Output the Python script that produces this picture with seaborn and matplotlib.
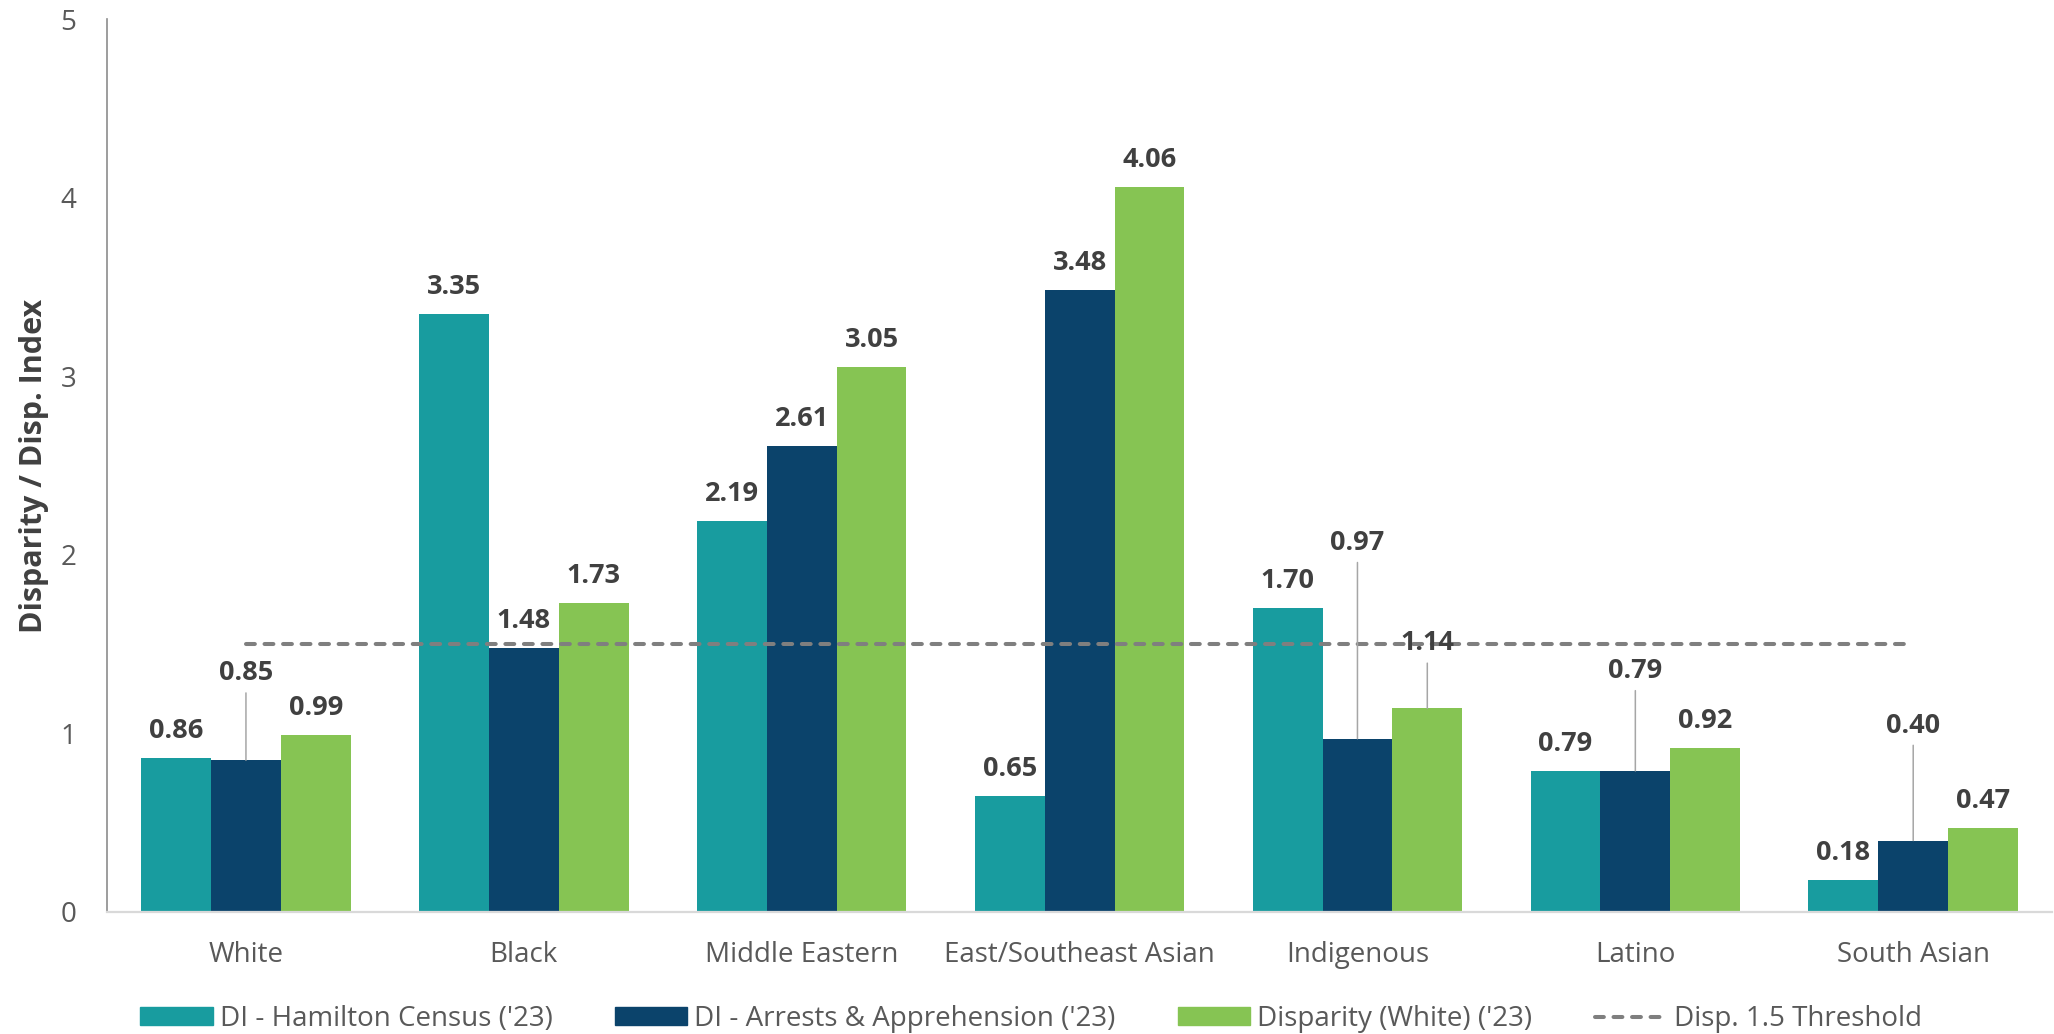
import numpy as np
import pandas as pd
import matplotlib.pyplot as plt
import seaborn as sns
from matplotlib.lines import Line2D

# --- data ---
categories = ['White', 'Black', 'Middle Eastern', 'East/Southeast Asian',
              'Indigenous', 'Latino', 'South Asian']
series_names = ["DI - Hamilton Census ('23)",
                "DI - Arrests & Apprehension ('23)",
                "Disparity (White) ('23)"]
census_di = [0.86, 3.35, 2.19, 0.65, 1.70, 0.79, 0.18]
arrests_di = [0.85, 1.48, 2.61, 3.48, 0.97, 0.79, 0.40]
disparity_white = [0.99, 1.73, 3.05, 4.06, 1.14, 0.92, 0.47]
threshold = 1.5
threshold_label = 'Disp. 1.5 Threshold'

colors = ['#189C9F', '#0B436B', '#86C453']
text_dark = '#404040'
text_grey = '#595959'

# labels that sit higher with a leader line (pixels from bar top to baseline)
lifted = {(0, 1): 80, (4, 1): 189, (4, 2): 58, (5, 1): 93, (6, 1): 108}
normal_gap = 20

rows = []
for name, vals in zip(series_names, [census_di, arrests_di, disparity_white]):
    for cat, v in zip(categories, vals):
        rows.append({'Category': cat, 'Series': name, 'Value': v})
df = pd.DataFrame(rows)

sns.set_theme(style='white')
plt.rcParams['font.family'] = ['Open Sans', 'DejaVu Sans']

fig = plt.figure(figsize=(20.54, 10.34), dpi=100)
ax = fig.add_axes([0.0521, 0.118, 0.947, 0.8636])

sns.barplot(data=df, x='Category', y='Value', hue='Series', order=categories,
            hue_order=series_names, palette=colors, saturation=1, width=0.754,
            gap=0, linewidth=0, ax=ax, legend=False)

# threshold line across the category centres
ax.hlines(threshold, 0, len(categories) - 1, colors='#7F7F7F', lw=2.9,
          linestyles=(0, (2.2, 2.4)), zorder=3)
for coll in ax.collections:
    coll.set_capstyle('round')

# data labels
for si, cont in enumerate(ax.containers):
    for ci, bar in enumerate(cont):
        val = bar.get_height()
        xc = bar.get_x() + bar.get_width() / 2
        gap = lifted.get((ci, si), normal_gap)
        if (ci, si) in lifted:
            ax.annotate(f'{val:.2f}', xy=(xc, val), xytext=(0, gap),
                        textcoords='offset pixels', ha='center', va='baseline',
                        fontsize=19.5, fontweight='bold', color=text_dark, zorder=4,
                        arrowprops=dict(arrowstyle='-', color='#A6A6A6', lw=1.1,
                                        shrinkA=2.5, shrinkB=0,
                                        relpos=(0.5, 0)))
        else:
            ax.annotate(f'{val:.2f}', xy=(xc, val), xytext=(0, gap),
                        textcoords='offset pixels', ha='center', va='baseline',
                        fontsize=19.5, fontweight='bold', color=text_dark, zorder=4)

ax.set_ylim(0, 5)
ax.set_xlim(-0.5, len(categories) - 0.5)
ax.set_yticks(range(0, 6))
ax.set_xlabel('')
ax.set_ylabel('Disparity / Disp. Index', fontsize=22, fontweight='bold',
              color=text_dark)
ax.yaxis.set_label_coords(-0.03, 0.5)
ax.tick_params(axis='x', length=0, pad=21, labelsize=20, labelcolor=text_grey)
ax.tick_params(axis='y', length=0, pad=22, labelsize=20, labelcolor=text_grey)

for side in ['top', 'right']:
    ax.spines[side].set_visible(False)
ax.spines['left'].set_color('#8C8C8C')
ax.spines['left'].set_linewidth(1.2)
ax.spines['bottom'].set_color('#D9D9D9')
ax.spines['bottom'].set_linewidth(1.6)

# legend
handles = [plt.Rectangle((0, 0), 1, 1, color=c) for c in colors]
handles.append(Line2D([0], [0], color='#7F7F7F', lw=2.9,
                      linestyle=(0, (2.2, 2.4)), dash_capstyle='round'))
fig.legend(handles, series_names + [threshold_label], loc='center',
           bbox_to_anchor=(0.502, 0.0145), ncol=4, frameon=False, fontsize=20,
           labelcolor=text_grey, handlelength=2.6, handleheight=0.62,
           handletextpad=0.25, columnspacing=2.25, borderpad=0)

fig.savefig('out.png', dpi=100)
